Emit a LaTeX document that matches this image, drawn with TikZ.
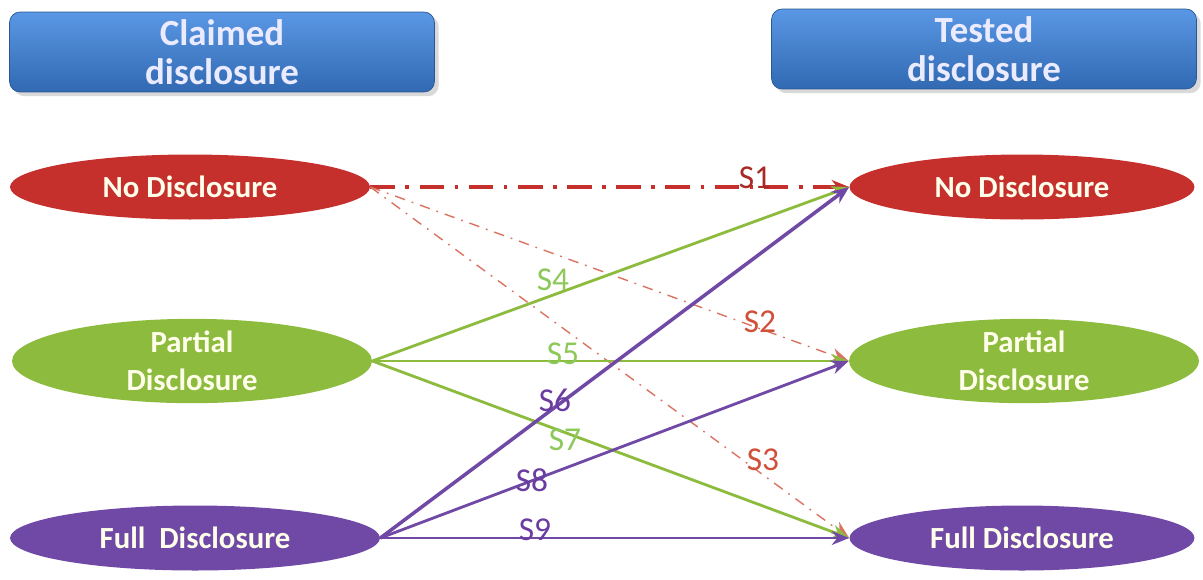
\documentclass[tikz,border=0pt]{standalone}
\usepackage{fontspec}
\setmainfont{Carlito}
\usetikzlibrary{positioning,arrows.meta,shapes.geometric,shadows}
\definecolor{boxblue}{HTML}{3A7CD2}
\definecolor{boxtop}{HTML}{5A97E4}
\definecolor{nored}{HTML}{C5302D}
\definecolor{partgreen}{HTML}{8CBB3E}
\definecolor{fullpurple}{HTML}{7049A6}
\definecolor{lblred}{HTML}{D0503A}
\definecolor{lblgreen}{HTML}{8DC85A}
\definecolor{lblpurple}{HTML}{6A3BA0}

\begin{document}
\begin{tikzpicture}[x=0.02cm,y=-0.02cm,
                headbox/.style={rectangle, rounded corners=6pt, draw=boxblue!70!black, top color=boxtop, bottom color=boxblue!85!black,
                    minimum width=8.5cm, minimum height=1.6cm, inner sep=0pt, text=white!92!blue, align=center,
                    font=\fontsize{21}{22.5}\selectfont\bfseries, drop shadow={opacity=0.3}},
                state/.style={ellipse, minimum width=7.2cm, minimum height=1.3cm, inner sep=0pt, text=white!92!yellow, align=center,
                    font=\fontsize{17.5}{21.5}\selectfont\bfseries},
                lbl/.style={font=\fontsize{19}{20}\selectfont, inner sep=0pt},
                tip/.style={-{Stealth[length=10pt,width=8pt]}}]
            \useasboundingbox (0,0) rectangle (1203,579);

            % header boxes
            \node[headbox] (claimed) at (222,52) {Claimed\\disclosure};
            \node[headbox] (tested) at (984,49) {Tested\\disclosure};

            % claimed states
            \node[state, fill=nored] (cno) at (190,187) {No Disclosure};
            \node[state, fill=partgreen] (cpart) at (192,361) {Partial\\Disclosure};
            \node[state, fill=fullpurple, minimum width=7.4cm] (cfull) at (195,538) {Full~ Disclosure};

            % tested states
            \node[state, fill=nored, minimum width=6.9cm] (tno) at (1022,187) {No Disclosure};
            \node[state, fill=partgreen, minimum width=7.0cm] (tpart) at (1024,361) {Partial\\Disclosure};
            \node[state, fill=fullpurple, minimum width=6.9cm] (tfull) at (1022,538) {Full Disclosure};

            % no disclosure
            \draw[tip, nored, line width=2.2pt, dash pattern=on 14pt off 6pt on 2pt off 6pt] (cno.east) -- (tno.west);
            \draw[tip, lblred!80, line width=0.8pt, dash pattern=on 6pt off 4pt on 1pt off 4pt] (cno.east) -- (tpart.west);
            \draw[tip, lblred!80, line width=0.8pt, dash pattern=on 6pt off 4pt on 1pt off 4pt] (cno.east) -- (tfull.west);

            % partial disclosure
            \draw[tip, partgreen, line width=1.6pt] (cpart.east) -- (tno.west);
            \draw[tip, partgreen, line width=1.6pt] (cpart.east) -- (tpart.west);
            \draw[tip, partgreen, line width=1.6pt] (cpart.east) -- (tfull.west);

            % full disclosure
            \draw[tip, fullpurple, line width=2pt] (cfull.east) -- (tno.west);
            \draw[tip, fullpurple, line width=1.6pt] (cfull.east) -- (tpart.west);
            \draw[tip, fullpurple, line width=0.9pt] (cfull.east) -- (tfull.west);

            % labels
            \node[lbl, text=nored!85!black] (s1) at (755,178) {S1};
            \node[lbl, text=lblred] (s2) at (760,322) {S2};
            \node[lbl, text=lblred] (s3) at (763,460) {S3};
            \node[lbl, text=lblgreen] (s4) at (553,280) {S4};
            \node[lbl, text=lblgreen] (s5) at (563,354) {S5};
            \node[lbl, text=lblpurple] (s6) at (555,400) {S6};
            \node[lbl, text=lblgreen] (s7) at (565,440) {S7};
            \node[lbl, text=lblpurple] (s8) at (532,480) {S8};
            \node[lbl, text=lblpurple] (s9) at (535,530) {S9};
        \end{tikzpicture}
\end{document}
